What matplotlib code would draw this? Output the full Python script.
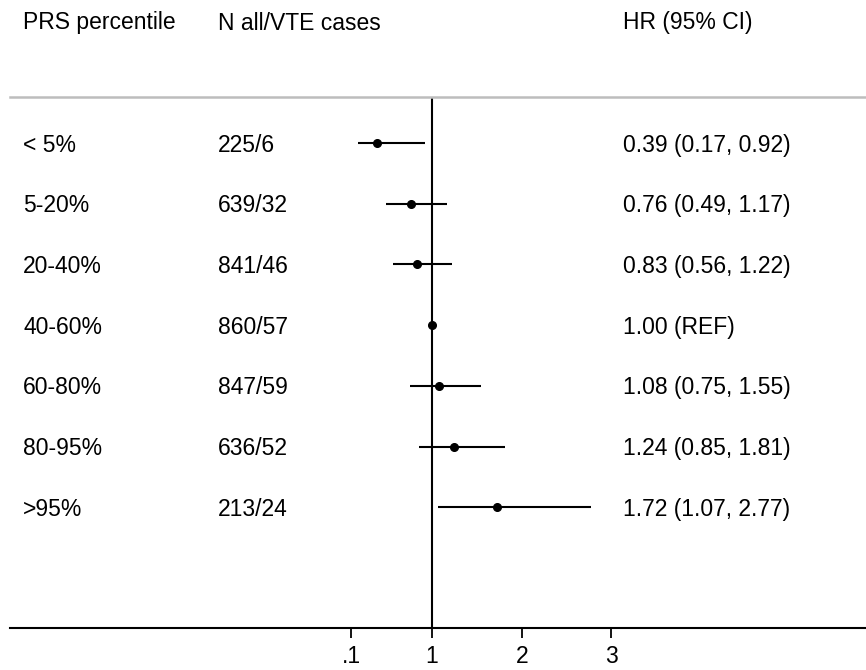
import numpy as np
import matplotlib
matplotlib.use("Agg")
import matplotlib.pyplot as plt
from matplotlib.transforms import blended_transform_factory

plt.rcParams['font.family'] = ['Liberation Sans', 'DejaVu Sans']

groups = ['< 5%', '5-20%', '20-40%', '40-60%', '60-80%', '80-95%', '>95%']
counts = ['225/6', '639/32', '841/46', '860/57', '847/59', '636/52', '213/24']
hr = [0.39, 0.76, 0.83, 1.00, 1.08, 1.24, 1.72]
lo = [0.17, 0.49, 0.56, np.nan, 0.75, 0.85, 1.07]
hi = [0.92, 1.17, 1.22, np.nan, 1.55, 1.81, 2.77]
hr_text = ['0.39 (0.17, 0.92)', '0.76 (0.49, 1.17)', '0.83 (0.56, 1.22)',
           '1.00 (REF)', '1.08 (0.75, 1.55)', '1.24 (0.85, 1.81)',
           '1.72 (1.07, 2.77)']
headers = ['PRS percentile', 'N all/VTE cases', 'HR (95% CI)']
xticks = [0.1, 1, 2, 3]
xticklabels = ['.1', '1', '2', '3']

W, H = 866, 670
fig = plt.figure(figsize=(W / 100, H / 100), dpi=100)
ax = fig.add_axes([10 / W, 42 / H, 856 / W, 531 / H])

y = np.arange(len(groups))
for i in range(len(groups)):
    if not np.isnan(lo[i]):
        ax.plot([lo[i], hi[i]], [y[i], y[i]], color='black', lw=1.5,
                solid_capstyle='butt', zorder=3)
ax.plot(hr, y, 'o', color='black', ms=5.5, zorder=4)
ax.axvline(1, color='black', lw=1.5, zorder=2)

ax.set_xlim(-3.707, 5.84)
ax.set_ylim(7.99, -0.758)
ax.set_yticks([])
ax.set_xticks(xticks)
ax.set_xticklabels(xticklabels, fontsize=16.5)
ax.tick_params(axis='x', length=7, width=1.3, pad=5)
for s in ['left', 'right']:
    ax.spines[s].set_visible(False)
ax.spines['bottom'].set_linewidth(1.5)
ax.spines['top'].set_color('#bdbdbd')
ax.spines['top'].set_linewidth(1.8)

tr = blended_transform_factory(fig.transFigure, ax.transData)
col_x = [23 / W, 218 / W, 623 / W]
off = 0.035
for i in range(len(groups)):
    fig.text(col_x[0], y[i] + off, groups[i], transform=tr, fontsize=16.5, va='center')
    fig.text(col_x[1], y[i] + off, counts[i], transform=tr, fontsize=16.5, va='center')
    fig.text(col_x[2], y[i] + off, hr_text[i], transform=tr, fontsize=16.5, va='center')
for cx, h in zip(col_x, headers):
    fig.text(cx, 1 - 23 / H, h, fontsize=16.5, va='center')

fig.savefig('out.png', dpi=100)
